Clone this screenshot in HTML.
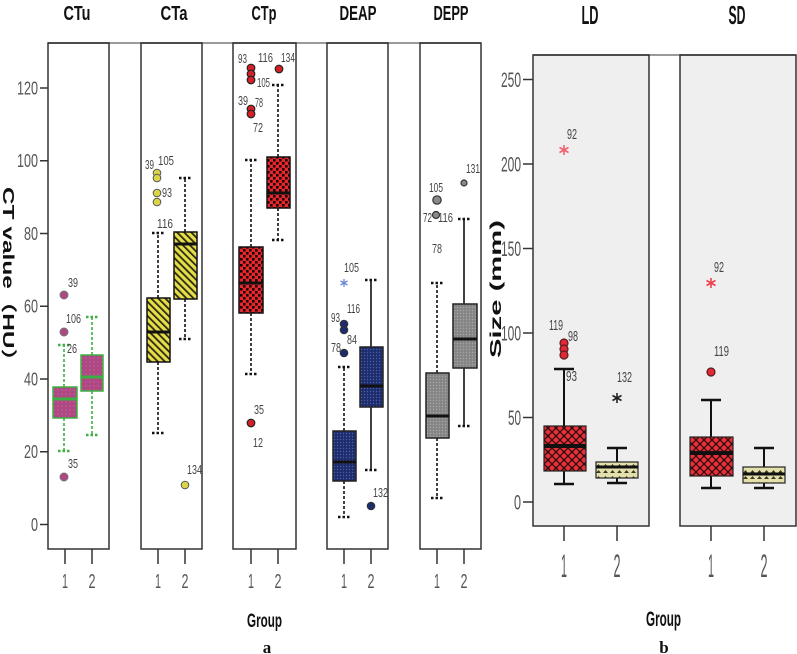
<!DOCTYPE html>
<html><head><meta charset="utf-8"><style>
html,body{margin:0;padding:0;background:#fff;}
svg{display:block;}
text{font-family:"Liberation Sans","Noto Sans CJK SC",sans-serif;}
</style></head><body>
<svg width="797" height="654" viewBox="0 0 797 654" xmlns="http://www.w3.org/2000/svg">
<defs>
<pattern id="pMau" width="4" height="4" patternUnits="userSpaceOnUse"><rect width="4" height="4" fill="#ad4883"/><circle cx="2" cy="2" r="0.8" fill="#c2609a"/></pattern>
<pattern id="pYel" width="5" height="5" patternUnits="userSpaceOnUse" patternTransform="rotate(-45)"><rect width="5" height="5" fill="#e6de48"/><rect width="1.8" height="5" fill="#2a2a10"/></pattern>
<pattern id="pRed" width="6" height="6" patternUnits="userSpaceOnUse"><rect width="6" height="6" fill="#e8262c"/><rect width="2.6" height="2.6" fill="#1a0606"/><rect x="3" y="3" width="2.6" height="2.6" fill="#1a0606"/></pattern>
<pattern id="pNav" width="3" height="3" patternUnits="userSpaceOnUse"><rect width="3" height="3" fill="#1d2c6c"/><circle cx="1.5" cy="1.5" r="0.7" fill="#4a5fa6"/></pattern>
<pattern id="pGry" width="3" height="3" patternUnits="userSpaceOnUse"><rect width="3" height="3" fill="#858585"/><circle cx="1.5" cy="1.5" r="0.7" fill="#a8a8a8"/></pattern>
<pattern id="pRX" width="8" height="8" patternUnits="userSpaceOnUse"><rect width="8" height="8" fill="#e8303a"/><path d="M0 0L8 8M8 0L0 8" stroke="#2a0a0a" stroke-width="1.2"/><circle cx="4" cy="4" r="1.3" fill="#2a0a0a"/></pattern>
<pattern id="pPY" width="7" height="6" patternUnits="userSpaceOnUse"><rect width="7" height="6" fill="#e4e0ac"/><path d="M1 5L3.5 2L6 5Z" fill="#3a3820"/></pattern>
</defs>

<!-- Right panel backgrounds -->
<rect x="533" y="55" width="116" height="471" fill="#efefef"/>
<rect x="680" y="55" width="116" height="471" fill="#efefef"/>

<!-- connecting gray lines -->
<line x1="48" y1="43" x2="481" y2="43" stroke="#9a9a9a" stroke-width="2"/>
<line x1="533" y1="55" x2="796" y2="55" stroke="#9a9a9a" stroke-width="2"/>

<!-- panel frames -->
<g fill="none" stroke="#333" stroke-width="1.5">
<rect x="48" y="43" width="61" height="506"/>
<rect x="141" y="43" width="61" height="506"/>
<rect x="233" y="43" width="63" height="506"/>
<rect x="327" y="43" width="61" height="506"/>
<rect x="420" y="43" width="61" height="506"/>
<rect x="533" y="55" width="116" height="471"/>
<rect x="680" y="55" width="116" height="471"/>
</g>

<!-- ticks -->
<g stroke="#333" stroke-width="1.5">
<line x1="40" y1="524.5" x2="48" y2="524.5"/><line x1="40" y1="451.75" x2="48" y2="451.75"/>
<line x1="40" y1="379" x2="48" y2="379"/><line x1="40" y1="306.25" x2="48" y2="306.25"/>
<line x1="40" y1="233.5" x2="48" y2="233.5"/><line x1="40" y1="160.75" x2="48" y2="160.75"/>
<line x1="40" y1="88" x2="48" y2="88"/>
<line x1="523" y1="502" x2="533" y2="502"/><line x1="523" y1="417.5" x2="533" y2="417.5"/>
<line x1="523" y1="333" x2="533" y2="333"/><line x1="523" y1="248.5" x2="533" y2="248.5"/>
<line x1="523" y1="164" x2="533" y2="164"/><line x1="523" y1="79.5" x2="533" y2="79.5"/>
<line x1="65" y1="549" x2="65" y2="564"/><line x1="92" y1="549" x2="92" y2="564"/>
<line x1="158" y1="549" x2="158" y2="564"/><line x1="185" y1="549" x2="185" y2="564"/>
<line x1="251" y1="549" x2="251" y2="564"/><line x1="278" y1="549" x2="278" y2="564"/>
<line x1="344" y1="549" x2="344" y2="564"/><line x1="371" y1="549" x2="371" y2="564"/>
<line x1="437" y1="549" x2="437" y2="564"/><line x1="464" y1="549" x2="464" y2="564"/>
<line x1="564" y1="526" x2="564" y2="541"/><line x1="617" y1="526" x2="617" y2="541"/>
<line x1="711" y1="526" x2="711" y2="541"/><line x1="764" y1="526" x2="764" y2="541"/>
</g>

<!-- left y labels -->
<g font-size="18" fill="#555" text-anchor="end">
<text x="38" y="531" textLength="7" lengthAdjust="spacingAndGlyphs">0</text>
<text x="38" y="458" textLength="14" lengthAdjust="spacingAndGlyphs">20</text>
<text x="38" y="385.5" textLength="14" lengthAdjust="spacingAndGlyphs">40</text>
<text x="38" y="312.5" textLength="14" lengthAdjust="spacingAndGlyphs">60</text>
<text x="38" y="240" textLength="14" lengthAdjust="spacingAndGlyphs">80</text>
<text x="38" y="167" textLength="21" lengthAdjust="spacingAndGlyphs">100</text>
<text x="38" y="94.5" textLength="21" lengthAdjust="spacingAndGlyphs">120</text>
</g>
<!-- right y labels -->
<g font-size="21" fill="#555" text-anchor="end">
<text x="521" y="509.5" textLength="7" lengthAdjust="spacingAndGlyphs">0</text>
<text x="521" y="425" textLength="13" lengthAdjust="spacingAndGlyphs">50</text>
<text x="521" y="340.5" textLength="20" lengthAdjust="spacingAndGlyphs">100</text>
<text x="521" y="256" textLength="20" lengthAdjust="spacingAndGlyphs">150</text>
<text x="521" y="171.5" textLength="20" lengthAdjust="spacingAndGlyphs">200</text>
<text x="521" y="87" textLength="20" lengthAdjust="spacingAndGlyphs">250</text>
</g>

<!-- x labels -->
<g font-size="20" fill="#555" text-anchor="middle">
<text x="65" y="588" textLength="6" lengthAdjust="spacingAndGlyphs">1</text><text x="92" y="588" textLength="7" lengthAdjust="spacingAndGlyphs">2</text>
<text x="158" y="588" textLength="6" lengthAdjust="spacingAndGlyphs">1</text><text x="185" y="588" textLength="7" lengthAdjust="spacingAndGlyphs">2</text>
<text x="251" y="588" textLength="6" lengthAdjust="spacingAndGlyphs">1</text><text x="278" y="588" textLength="7" lengthAdjust="spacingAndGlyphs">2</text>
<text x="344" y="588" textLength="6" lengthAdjust="spacingAndGlyphs">1</text><text x="371" y="588" textLength="7" lengthAdjust="spacingAndGlyphs">2</text>
<text x="437" y="588" textLength="6" lengthAdjust="spacingAndGlyphs">1</text><text x="464" y="588" textLength="7" lengthAdjust="spacingAndGlyphs">2</text>
</g>
<g font-size="32" fill="#555" text-anchor="middle">
<text x="564" y="577" textLength="6" lengthAdjust="spacingAndGlyphs">1</text><text x="617" y="577" textLength="7" lengthAdjust="spacingAndGlyphs">2</text>
<text x="711" y="577" textLength="6" lengthAdjust="spacingAndGlyphs">1</text><text x="764" y="577" textLength="7" lengthAdjust="spacingAndGlyphs">2</text>
</g>

<!-- titles -->
<g font-size="20" font-weight="bold" fill="#111" text-anchor="middle">
<text x="77" y="20" textLength="27" lengthAdjust="spacingAndGlyphs">CTu</text>
<text x="174" y="20" textLength="27" lengthAdjust="spacingAndGlyphs">CTa</text>
<text x="264" y="20" textLength="25" lengthAdjust="spacingAndGlyphs">CTp</text>
<text x="358" y="20" textLength="37" lengthAdjust="spacingAndGlyphs">DEAP</text>
<text x="451" y="20" textLength="35" lengthAdjust="spacingAndGlyphs">DEPP</text>
</g>
<g font-size="26" font-weight="bold" fill="#111" text-anchor="middle">
<text x="590" y="24" textLength="17" lengthAdjust="spacingAndGlyphs">LD</text>
<text x="737" y="24" textLength="17" lengthAdjust="spacingAndGlyphs">SD</text>
</g>

<!-- axis titles -->
<text transform="translate(3,280) rotate(90)" font-size="16" font-weight="bold" fill="#111" text-anchor="middle" textLength="186" lengthAdjust="spacingAndGlyphs">CT value（HU）</text>
<text transform="translate(501,289) rotate(-90)" font-size="16" font-weight="bold" fill="#111" text-anchor="middle" textLength="138" lengthAdjust="spacingAndGlyphs">Size (mm)</text>
<text x="264.5" y="627" font-size="19" font-weight="bold" fill="#111" text-anchor="middle" textLength="35" lengthAdjust="spacingAndGlyphs">Group</text>
<text x="663.5" y="626" font-size="21" font-weight="bold" fill="#111" text-anchor="middle" textLength="35" lengthAdjust="spacingAndGlyphs">Group</text>
<text x="267" y="653" font-size="17" font-weight="bold" fill="#111" text-anchor="middle" style="font-family:'Liberation Serif',serif">a</text>
<text x="664" y="653" font-size="17" font-weight="bold" fill="#111" text-anchor="middle" style="font-family:'Liberation Serif',serif">b</text>

<!-- ============ CTu ============ -->
<g stroke="#3cb043" stroke-width="1.6" fill="none">
<line x1="64" y1="387" x2="64" y2="345" stroke-dasharray="3 2"/><line x1="64" y1="418" x2="64" y2="451" stroke-dasharray="3 2"/>
<line x1="58" y1="345" x2="70" y2="345" stroke-width="2.5" stroke-dasharray="2.5 2"/><line x1="58" y1="451" x2="70" y2="451" stroke-width="2.5" stroke-dasharray="2.5 2"/>
<line x1="92" y1="355" x2="92" y2="317" stroke-dasharray="3 2"/><line x1="92" y1="391" x2="92" y2="435" stroke-dasharray="3 2"/>
<line x1="86" y1="317" x2="98" y2="317" stroke-width="2.5" stroke-dasharray="2.5 2"/><line x1="86" y1="435" x2="98" y2="435" stroke-width="2.5" stroke-dasharray="2.5 2"/>
</g>
<rect x="53" y="387" width="24" height="31" fill="url(#pMau)" stroke="#3cb043" stroke-width="1.5"/>
<line x1="53" y1="399" x2="77" y2="399" stroke="#3cb043" stroke-width="3"/>
<rect x="81" y="355" width="22" height="36" fill="url(#pMau)" stroke="#3cb043" stroke-width="1.5"/>
<line x1="81" y1="377" x2="103" y2="377" stroke="#3cb043" stroke-width="3"/>
<g fill="#ad4883" stroke="#777" stroke-width="1">
<circle cx="64" cy="295" r="4"/><circle cx="64" cy="332" r="4"/><circle cx="64" cy="477" r="4"/>
</g>

<!-- ============ CTa ============ -->
<g stroke="#111" stroke-width="1.6" fill="none">
<line x1="158" y1="298" x2="158" y2="233" stroke-dasharray="3 2"/><line x1="158" y1="362" x2="158" y2="433" stroke-dasharray="3 2"/>
<line x1="152" y1="233" x2="164" y2="233" stroke-width="2.5" stroke-dasharray="2.5 2"/><line x1="152" y1="433" x2="164" y2="433" stroke-width="2.5" stroke-dasharray="2.5 2"/>
<line x1="185" y1="232" x2="185" y2="178" stroke-dasharray="3 2"/><line x1="185" y1="299" x2="185" y2="339" stroke-dasharray="3 2"/>
<line x1="179" y1="178" x2="191" y2="178" stroke-width="2.5" stroke-dasharray="2.5 2"/><line x1="179" y1="339" x2="191" y2="339" stroke-width="2.5" stroke-dasharray="2.5 2"/>
</g>
<rect x="147" y="298" width="23" height="64" fill="url(#pYel)" stroke="#111" stroke-width="1.5"/>
<line x1="147" y1="332" x2="170" y2="332" stroke="#111" stroke-width="3"/>
<rect x="174" y="232" width="23" height="67" fill="url(#pYel)" stroke="#111" stroke-width="1.5"/>
<line x1="174" y1="244" x2="197" y2="244" stroke="#111" stroke-width="3"/>
<g fill="#dcd448" stroke="#555" stroke-width="1">
<circle cx="157" cy="173" r="3.8"/><circle cx="157" cy="178" r="3.8"/><circle cx="157" cy="193" r="3.8"/><circle cx="157" cy="202" r="3.8"/>
<circle cx="185" cy="485" r="3.8"/>
</g>

<!-- ============ CTp ============ -->
<g stroke="#111" stroke-width="1.6" fill="none">
<line x1="251" y1="247" x2="251" y2="160" stroke-dasharray="3 2"/><line x1="251" y1="313" x2="251" y2="374" stroke-dasharray="3 2"/>
<line x1="245" y1="160" x2="257" y2="160" stroke-width="2.5" stroke-dasharray="2.5 2"/><line x1="245" y1="374" x2="257" y2="374" stroke-width="2.5" stroke-dasharray="2.5 2"/>
<line x1="278" y1="157" x2="278" y2="85" stroke-dasharray="3 2"/><line x1="278" y1="208" x2="278" y2="240" stroke-dasharray="3 2"/>
<line x1="272" y1="85" x2="284" y2="85" stroke-width="2.5" stroke-dasharray="2.5 2"/><line x1="272" y1="240" x2="284" y2="240" stroke-width="2.5" stroke-dasharray="2.5 2"/>
</g>
<rect x="239" y="247" width="24" height="66" fill="url(#pRed)" stroke="#111" stroke-width="1.5"/>
<line x1="239" y1="283" x2="263" y2="283" stroke="#111" stroke-width="3"/>
<rect x="267" y="157" width="23" height="51" fill="url(#pRed)" stroke="#111" stroke-width="1.5"/>
<line x1="267" y1="193" x2="290" y2="193" stroke="#111" stroke-width="3"/>
<g fill="#d62028" stroke="#222" stroke-width="1.2">
<circle cx="251" cy="68" r="3.8"/><circle cx="251" cy="74" r="3.8"/><circle cx="251" cy="80" r="3.8"/>
<circle cx="251" cy="109" r="3.8"/><circle cx="251" cy="114" r="3.8"/>
<circle cx="251" cy="423" r="3.8"/><circle cx="279" cy="69" r="3.8"/>
</g>

<!-- ============ DEAP ============ -->
<g stroke="#111" stroke-width="1.6" fill="none">
<line x1="344" y1="431" x2="344" y2="367" stroke-dasharray="3 2"/><line x1="344" y1="481" x2="344" y2="517" stroke-dasharray="3 2"/>
<line x1="338" y1="367" x2="350" y2="367" stroke-width="2.5" stroke-dasharray="2.5 2"/><line x1="338" y1="517" x2="350" y2="517" stroke-width="2.5" stroke-dasharray="2.5 2"/>
<line x1="371" y1="347" x2="371" y2="280"/><line x1="371" y1="407" x2="371" y2="470"/>
<line x1="365" y1="280" x2="377" y2="280" stroke-width="2.5" stroke-dasharray="2.5 2"/><line x1="365" y1="470" x2="377" y2="470" stroke-width="2.5" stroke-dasharray="2.5 2"/>
</g>
<rect x="333" y="431" width="23" height="50" fill="url(#pNav)" stroke="#222" stroke-width="1.5"/>
<line x1="333" y1="462" x2="356" y2="462" stroke="#111" stroke-width="3"/>
<rect x="360" y="347" width="23" height="60" fill="url(#pNav)" stroke="#222" stroke-width="1.5"/>
<line x1="360" y1="386" x2="383" y2="386" stroke="#111" stroke-width="3"/>
<g fill="#1d2c6c" stroke="#333" stroke-width="1">
<circle cx="344" cy="324" r="3.8"/><circle cx="344" cy="330" r="3.8"/><circle cx="344" cy="353" r="3.8"/>
<circle cx="371" cy="506" r="3.8"/>
</g>
<!-- star DEAP 105 -->
<g stroke="#6a86d6" stroke-width="1.3">
<line x1="344" y1="279" x2="344" y2="287"/><line x1="340.5" y1="281" x2="347.5" y2="285"/><line x1="340.5" y1="285" x2="347.5" y2="281"/>
</g>

<!-- ============ DEPP ============ -->
<g stroke="#111" stroke-width="1.6" fill="none">
<line x1="437" y1="373" x2="437" y2="283" stroke-dasharray="3 2"/><line x1="437" y1="438" x2="437" y2="498" stroke-dasharray="3 2"/>
<line x1="431" y1="283" x2="443" y2="283" stroke-width="2.5" stroke-dasharray="2.5 2"/><line x1="431" y1="498" x2="443" y2="498" stroke-width="2.5" stroke-dasharray="2.5 2"/>
<line x1="464" y1="304" x2="464" y2="219"/><line x1="464" y1="368" x2="464" y2="426"/>
<line x1="458" y1="219" x2="470" y2="219" stroke-width="2.5" stroke-dasharray="2.5 2"/><line x1="458" y1="426" x2="470" y2="426" stroke-width="2.5" stroke-dasharray="2.5 2"/>
</g>
<rect x="426" y="373" width="23" height="65" fill="url(#pGry)" stroke="#222" stroke-width="1.5"/>
<line x1="426" y1="416" x2="449" y2="416" stroke="#111" stroke-width="3"/>
<rect x="453" y="304" width="24" height="64" fill="url(#pGry)" stroke="#222" stroke-width="1.5"/>
<line x1="453" y1="339" x2="477" y2="339" stroke="#111" stroke-width="3"/>
<g fill="#8a8a8a" stroke="#333" stroke-width="1.2">
<circle cx="437" cy="200" r="4.2"/><circle cx="436" cy="215" r="3.5"/><circle cx="464" cy="183" r="3"/>
</g>

<!-- ============ LD ============ -->
<g stroke="#111" stroke-width="2" fill="none">
<line x1="564" y1="426" x2="564" y2="369"/><line x1="564" y1="471" x2="564" y2="484"/>
<line x1="554" y1="369" x2="574" y2="369" stroke-width="2.5"/><line x1="554" y1="484" x2="574" y2="484" stroke-width="2.5"/>
<line x1="617" y1="462" x2="617" y2="448"/><line x1="617" y1="478" x2="617" y2="483"/>
<line x1="607" y1="448" x2="627" y2="448" stroke-width="2.5"/><line x1="607" y1="483" x2="627" y2="483" stroke-width="2.5"/>
</g>
<rect x="544" y="426" width="42" height="45" fill="url(#pRX)" stroke="#222" stroke-width="1.2"/>
<line x1="544" y1="446" x2="586" y2="446" stroke="#111" stroke-width="4"/>
<rect x="596" y="462" width="42" height="16" fill="url(#pPY)" stroke="#222" stroke-width="1.2"/>
<line x1="596" y1="467" x2="638" y2="467" stroke="#111" stroke-width="3"/>
<g fill="#e02a36" stroke="#5a1a1a" stroke-width="1.2">
<circle cx="564" cy="343" r="4"/><circle cx="564" cy="349" r="4"/><circle cx="564" cy="355" r="4"/>
</g>
<!-- star LD 92 -->
<g stroke="#f06070" stroke-width="1.6">
<line x1="564" y1="145" x2="564" y2="155"/><line x1="559.5" y1="147.5" x2="568.5" y2="152.5"/><line x1="559.5" y1="152.5" x2="568.5" y2="147.5"/>
</g>
<!-- star LD 132 -->
<g stroke="#222" stroke-width="1.6">
<line x1="617" y1="393" x2="617" y2="403"/><line x1="612.5" y1="395.5" x2="621.5" y2="400.5"/><line x1="612.5" y1="400.5" x2="621.5" y2="395.5"/>
</g>

<!-- ============ SD ============ -->
<g stroke="#111" stroke-width="2" fill="none">
<line x1="711" y1="437" x2="711" y2="400"/><line x1="711" y1="476" x2="711" y2="488"/>
<line x1="701" y1="400" x2="721" y2="400" stroke-width="2.5"/><line x1="701" y1="488" x2="721" y2="488" stroke-width="2.5"/>
<line x1="764" y1="467" x2="764" y2="448"/><line x1="764" y1="483" x2="764" y2="488"/>
<line x1="754" y1="448" x2="774" y2="448" stroke-width="2.5"/><line x1="754" y1="488" x2="774" y2="488" stroke-width="2.5"/>
</g>
<rect x="690" y="437" width="43" height="39" fill="url(#pRX)" stroke="#222" stroke-width="1.2"/>
<line x1="690" y1="453" x2="733" y2="453" stroke="#111" stroke-width="4"/>
<rect x="743" y="467" width="42" height="16" fill="url(#pPY)" stroke="#222" stroke-width="1.2"/>
<line x1="743" y1="474" x2="785" y2="474" stroke="#111" stroke-width="3"/>
<circle cx="711" cy="372" r="4" fill="#e02a36" stroke="#5a1a1a" stroke-width="1.2"/>
<!-- star SD 92 -->
<g stroke="#f04050" stroke-width="1.6">
<line x1="711" y1="278" x2="711" y2="288"/><line x1="706.5" y1="280.5" x2="715.5" y2="285.5"/><line x1="706.5" y1="285.5" x2="715.5" y2="280.5"/>
</g>

<!-- outlier labels left -->
<g font-size="13" fill="#444">
<text x="68" y="287" textLength="10" lengthAdjust="spacingAndGlyphs">39</text>
<text x="66" y="323" textLength="15" lengthAdjust="spacingAndGlyphs">106</text>
<text x="67" y="353" textLength="10" lengthAdjust="spacingAndGlyphs">26</text>
<text x="68" y="468" textLength="10" lengthAdjust="spacingAndGlyphs">35</text>

<text x="145" y="169" textLength="9" lengthAdjust="spacingAndGlyphs">39</text>
<text x="158" y="165" textLength="16" lengthAdjust="spacingAndGlyphs">105</text>
<text x="162" y="197" textLength="10" lengthAdjust="spacingAndGlyphs">93</text>
<text x="157" y="228" textLength="16" lengthAdjust="spacingAndGlyphs">116</text>
<text x="187" y="474" textLength="15" lengthAdjust="spacingAndGlyphs">134</text>

<text x="238" y="63" textLength="9" lengthAdjust="spacingAndGlyphs">93</text>
<text x="258" y="62" textLength="15" lengthAdjust="spacingAndGlyphs">116</text>
<text x="281" y="62" textLength="14" lengthAdjust="spacingAndGlyphs">134</text>
<text x="257" y="87" textLength="13" lengthAdjust="spacingAndGlyphs">105</text>
<text x="238" y="105" textLength="10" lengthAdjust="spacingAndGlyphs">39</text>
<text x="255" y="107" textLength="8" lengthAdjust="spacingAndGlyphs">78</text>
<text x="253" y="132" textLength="10" lengthAdjust="spacingAndGlyphs">72</text>
<text x="254" y="414" textLength="10" lengthAdjust="spacingAndGlyphs">35</text>
<text x="253" y="447" textLength="10" lengthAdjust="spacingAndGlyphs">12</text>

<text x="344" y="272" textLength="15" lengthAdjust="spacingAndGlyphs">105</text>
<text x="331" y="322" textLength="9" lengthAdjust="spacingAndGlyphs">93</text>
<text x="347" y="313" textLength="13" lengthAdjust="spacingAndGlyphs">116</text>
<text x="347" y="344" textLength="10" lengthAdjust="spacingAndGlyphs">84</text>
<text x="331" y="352" textLength="10" lengthAdjust="spacingAndGlyphs">78</text>
<text x="373" y="497" textLength="15" lengthAdjust="spacingAndGlyphs">132</text>

<text x="429" y="192" textLength="14" lengthAdjust="spacingAndGlyphs">105</text>
<text x="423" y="222" textLength="9" lengthAdjust="spacingAndGlyphs">72</text>
<text x="438" y="222" textLength="15" lengthAdjust="spacingAndGlyphs">116</text>
<text x="432" y="253" textLength="10" lengthAdjust="spacingAndGlyphs">78</text>
<text x="466" y="173" textLength="14" lengthAdjust="spacingAndGlyphs">131</text>
</g>
<!-- outlier labels right -->
<g font-size="15" fill="#444">
<text x="567" y="139" textLength="10" lengthAdjust="spacingAndGlyphs">92</text>
<text x="549" y="330" textLength="14" lengthAdjust="spacingAndGlyphs">119</text>
<text x="568" y="341" textLength="10" lengthAdjust="spacingAndGlyphs">98</text>
<text x="566" y="381" textLength="11" lengthAdjust="spacingAndGlyphs">93</text>
<text x="617" y="382" textLength="15" lengthAdjust="spacingAndGlyphs">132</text>
<text x="714" y="272" textLength="10" lengthAdjust="spacingAndGlyphs">92</text>
<text x="714" y="356" textLength="15" lengthAdjust="spacingAndGlyphs">119</text>
</g>
</svg>
</body></html>
